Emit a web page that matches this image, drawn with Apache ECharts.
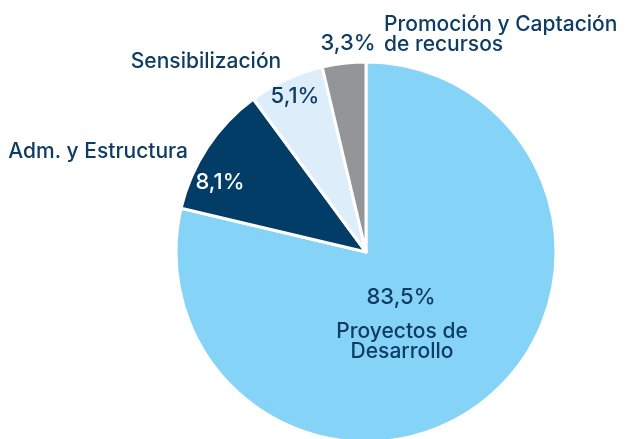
<!DOCTYPE html>
<html>
<head>
<meta charset="utf-8">
<script src="https://cdn.jsdelivr.net/npm/echarts@6/dist/echarts.min.js"></script>
<style>
  html, body { margin: 0; padding: 0; background: #fff; }
  #chart { width: 643px; height: 439px; }
</style>
</head>
<body>
<div id="chart"></div>
<script>
// datos del gráfico
const names = ["Proyectos de Desarrollo", "Adm. y Estructura", "Sensibilización", "Promoción y Captación de recursos"];
// porcentajes impresos
const pctLabels = ["83,5%", "8,1%", "5,1%", "3,3%"];
// proporciones tal como están dibujadas en la imagen (ángulos medidos)
const sliceShares = [78.7, 11.2, 6.4, 3.7];
const nameLabels = ["Proyectos de\nDesarrollo", "Adm. y Estructura", "Sensibilización", "Promoción y Captación\nde recursos"];
const colors = ["#85D3F6", "#023D68", "#DDEEFA", "#939598"];

(function () {
  var myChart = echarts.init(document.getElementById("chart"));
  const textColor = "#0E3C64";
  const font = "Inter";

  // posiciones de etiquetas
  const pctPos = [
    { x: 401, y: 297, align: "center" },
    { x: 220, y: 182, align: "center" },
    { x: 295, y: 96, align: "center" },
    { x: 348, y: 43, align: "center" },
  ];
  const namePos = [
    { x: 402, y: 342, align: "center" },
    { x: 188, y: 152, align: "right" },
    { x: 206, y: 62, align: "center" },
    { x: 384, y: 35, align: "left" },
  ];

  const pieBase = {
    type: "pie",
    center: [366, 252],
    radius: [0, 190],
    startAngle: 90,
    clockwise: true,
    silent: true,
    labelLine: { show: false },
  };

  var option = {
    animation: false,
    color: colors,
    series: [
      Object.assign({}, pieBase, {
        itemStyle: { borderColor: "#fff", borderWidth: 3 },
        label: {
          show: true,
          position: "inside",
          fontFamily: font,
          fontWeight: 500,
          fontSize: 22,
          color: textColor,
          formatter: (p) => pctLabels[p.dataIndex],
        },
        labelLayout: (p) => ({
          x: pctPos[p.dataIndex].x,
          y: pctPos[p.dataIndex].y,
          align: pctPos[p.dataIndex].align,
          verticalAlign: "middle",
        }),
        data: sliceShares.map((v, i) => ({
          name: names[i],
          value: v,
          label: i === 1 ? { color: "#fff" } : {},
        })),
      }),
      Object.assign({}, pieBase, {
        data: sliceShares.map((v, i) => ({ name: names[i], value: v })),
        itemStyle: { color: "rgba(0,0,0,0)", borderWidth: 0 },
        label: {
          show: true,
          position: "inside",
          fontFamily: font,
          fontWeight: 500,
          fontSize: 21,
          lineHeight: 20,
          color: textColor,
          formatter: (p) => nameLabels[p.dataIndex],
        },
        labelLayout: (p) => ({
          x: namePos[p.dataIndex].x,
          y: namePos[p.dataIndex].y,
          align: namePos[p.dataIndex].align,
          verticalAlign: "middle",
        }),
      }),
    ],
  };

  myChart.setOption(option);
  window.addEventListener("resize", function () {
    myChart.resize();
  });
})();
</script>
</body>
</html>
